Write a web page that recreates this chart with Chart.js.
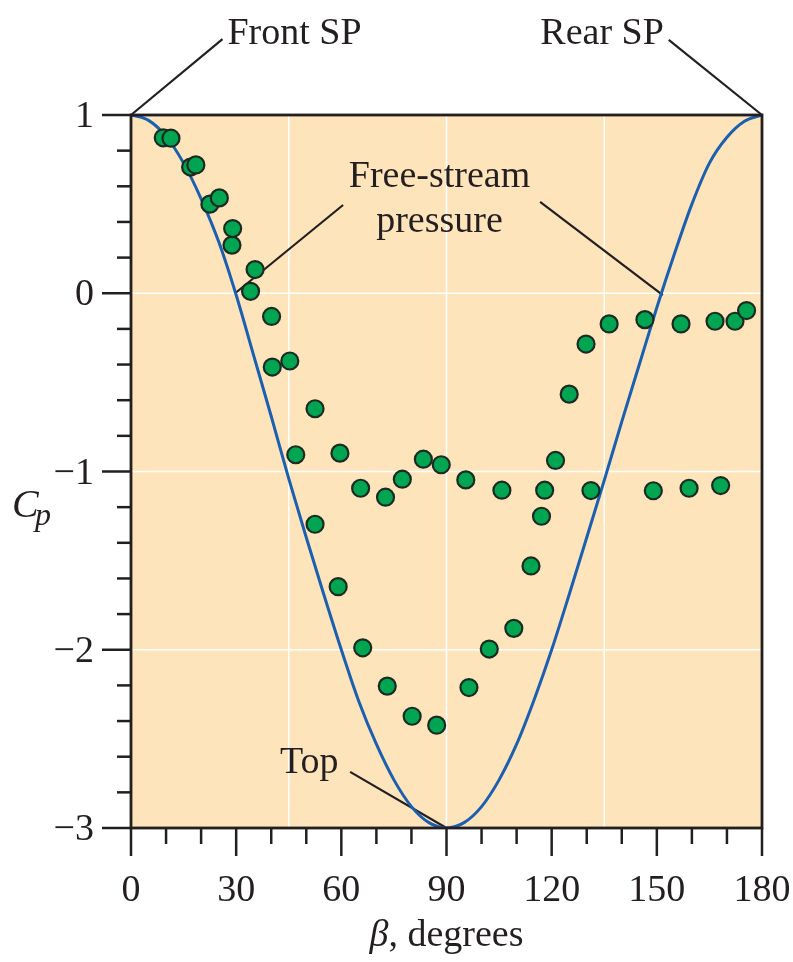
<!DOCTYPE html>
<html>
<head>
<meta charset="utf-8">
<script src="https://cdn.jsdelivr.net/npm/chart.js@4/dist/chart.umd.min.js"></script>
<style>
  html, body { margin: 0; padding: 0; background: #ffffff; }
  #wrap { width: 793px; height: 962px; }
</style>
</head>
<body>
<div id="wrap"><canvas id="cpChart" width="793" height="962"></canvas></div>
<script>
// --- datos ---
// curva teórica (flujo potencial), beta en grados
const thetaBeta = [0, 5, 10, 15, 20, 25, 30, 35, 40, 45, 50, 55, 60, 65, 70, 75, 80, 85, 90,
                   95, 100, 105, 110, 115, 120, 125, 130, 135, 140, 145, 150, 155, 160, 165, 170, 175, 180];
const thetaCp = [1.0, 0.97, 0.88, 0.73, 0.53, 0.29, -0.01, -0.35, -0.69, -1.04, -1.37, -1.69, -2.0, -2.29, -2.53, -2.73, -2.88, -2.97, -3.0,
                 -2.97, -2.88, -2.73, -2.53, -2.28, -2.0, -1.69, -1.37, -1.05, -0.72, -0.40, -0.08, 0.22, 0.50, 0.73, 0.875, 0.965, 1.0];

// serie experimental 1 (meseta en -1.1)
const lamBeta = [11.4, 18.5, 25.2, 29.0, 35.4, 40.1, 45.3, 52.5, 59.6, 65.5, 72.6, 77.4, 83.4, 88.5, 95.5, 105.8, 131.2, 149.0, 159.2, 168.2];
const lamCp = [0.87, 0.72, 0.535, 0.363, 0.133, -0.13, -0.38, -0.648, -0.897, -1.094, -1.144, -1.043, -0.931, -0.962, -1.047, -1.105, -1.107, -1.108, -1.094, -1.079];

// serie experimental 2 (mínimo en -2.4)
const turbBeta = [9.2, 17.0, 22.5, 28.8, 34.1, 40.3, 47.0, 52.5, 59.1, 66.1, 73.1, 80.2, 87.2, 96.4, 102.2, 109.2, 114.1, 117.1, 118.0,
                  121.1, 125.0, 129.8, 136.4, 146.6, 156.9, 166.6, 172.3, 175.6];
const turbCp = [0.872, 0.708, 0.5, 0.27, 0.011, -0.414, -0.906, -1.296, -1.646, -1.989, -2.204, -2.373, -2.423, -2.212, -1.996, -1.88, -1.53, -1.251, -1.105,
                -0.938, -0.566, -0.285, -0.172, -0.148, -0.172, -0.157, -0.157, -0.097];

// ejes
const xTicks = [0, 30, 60, 90, 120, 150, 180];
const xMinorTicks = [10, 20, 40, 50, 70, 80, 100, 110, 130, 140, 160, 170];
const yTicks = [1, 0, -1, -2, -3];
const yTickLabels = ['1', '0', '\u22121', '\u22122', '\u22123'];
const yMinorTicks = [0.8, 0.6, 0.4, 0.2, -0.2, -0.4, -0.6, -0.8, -1.2, -1.4, -1.6, -1.8, -2.2, -2.4, -2.6, -2.8];
const xGrid = [45, 90, 135];
const yGrid = [0, -1, -2];

const toPts = (xs, ys) => xs.map((x, i) => ({ x: x, y: ys[i] }));

const INK = '#231f20';
const SERIF = '"Liberation Serif", "DejaVu Serif", serif';

// --- plugin para fondo, marco, marcas y anotaciones ---
const decorPlugin = {
    id: 'decor',
    beforeDatasetsDraw(chart) {
        const ctx = chart.ctx;
        const a = chart.chartArea;
        const sx = chart.scales.x, sy = chart.scales.y;
        ctx.save();
        ctx.fillStyle = '#fee4bb';
        ctx.fillRect(a.left, a.top, a.right - a.left, a.bottom - a.top);

        ctx.strokeStyle = '#ffffff';
        ctx.lineWidth = 1.5;
        xGrid.forEach(v => {
            const x = sx.getPixelForValue(v);
            ctx.beginPath(); ctx.moveTo(x, a.top); ctx.lineTo(x, a.bottom); ctx.stroke();
        });
        yGrid.forEach(v => {
            const y = sy.getPixelForValue(v);
            ctx.beginPath(); ctx.moveTo(a.left, y); ctx.lineTo(a.right, y); ctx.stroke();
        });

        // líneas de referencia de las anotaciones
        const seg = (x1, y1, x2, y2) => {
            ctx.beginPath();
            ctx.moveTo(sx.getPixelForValue(x1), sy.getPixelForValue(y1));
            ctx.lineTo(sx.getPixelForValue(x2), sy.getPixelForValue(y2));
            ctx.stroke();
        };
        ctx.strokeStyle = INK;
        ctx.lineWidth = 2.2;
        seg(60.5, 0.495, 29.7, 0.0);
        seg(116.7, 0.512, 151.7, -0.01);
        seg(62.5, -2.685, 90, -3);
        ctx.restore();
    },
    afterDatasetsDraw(chart) {
        const ctx = chart.ctx;
        const a = chart.chartArea;
        const sx = chart.scales.x, sy = chart.scales.y;
        ctx.save();
        ctx.strokeStyle = INK;
        ctx.lineCap = 'butt';

        // marco
        ctx.lineWidth = 2.8;
        ctx.strokeRect(a.left, a.top, a.right - a.left, a.bottom - a.top);

        // marcas del eje x
        ctx.lineWidth = 2.5;
        xTicks.forEach(v => {
            const x = sx.getPixelForValue(v);
            ctx.beginPath(); ctx.moveTo(x, a.bottom); ctx.lineTo(x, a.bottom + 28); ctx.stroke();
        });
        xMinorTicks.forEach(v => {
            const x = sx.getPixelForValue(v);
            ctx.beginPath(); ctx.moveTo(x, a.bottom); ctx.lineTo(x, a.bottom + 16); ctx.stroke();
        });
        // marcas del eje y
        yTicks.forEach(v => {
            const y = sy.getPixelForValue(v);
            ctx.beginPath(); ctx.moveTo(a.left - 29, y); ctx.lineTo(a.left, y); ctx.stroke();
        });
        yMinorTicks.forEach(v => {
            const y = sy.getPixelForValue(v);
            ctx.beginPath(); ctx.moveTo(a.left - 14, y); ctx.lineTo(a.left, y); ctx.stroke();
        });

        // etiquetas de marcas
        ctx.fillStyle = INK;
        ctx.font = '38px ' + SERIF;
        ctx.textBaseline = 'alphabetic';
        ctx.textAlign = 'center';
        xTicks.forEach(v => {
            ctx.fillText(String(v), sx.getPixelForValue(v), a.bottom + 73);
        });
        ctx.textAlign = 'right';
        yTicks.forEach((v, i) => {
            ctx.fillText(yTickLabels[i], a.left - 37, sy.getPixelForValue(v) + 12);
        });

        // títulos de ejes
        ctx.textAlign = 'left';
        ctx.font = 'italic 40px ' + SERIF;
        ctx.fillText('C', 12, 517);
        ctx.font = 'italic 32px ' + SERIF;
        ctx.fillText('p', 35, 525);

        const cx = sx.getPixelForValue(90);
        ctx.font = 'italic 38px ' + SERIF;
        const wB = ctx.measureText('\u03b2').width;
        ctx.font = '38px ' + SERIF;
        const wRest = ctx.measureText(', degrees').width;
        const x0 = cx - (wB + wRest) / 2;
        ctx.font = 'italic 38px ' + SERIF;
        ctx.fillText('\u03b2', x0, 946);
        ctx.font = '38px ' + SERIF;
        ctx.fillText(', degrees', x0 + wB, 946);

        // anotaciones
        ctx.font = '38px ' + SERIF;
        ctx.textAlign = 'left';
        ctx.fillText('Front SP', sx.getPixelForValue(27.5), sy.getPixelForValue(1.40));
        ctx.textAlign = 'right';
        ctx.fillText('Rear SP', sx.getPixelForValue(152.0), sy.getPixelForValue(1.40));
        ctx.textAlign = 'center';
        ctx.fillText('Free-stream', sx.getPixelForValue(88), sy.getPixelForValue(0.596));
        ctx.fillText('pressure', sx.getPixelForValue(88), sy.getPixelForValue(0.344));
        ctx.textAlign = 'left';
        ctx.fillText('Top', sx.getPixelForValue(42.5), sy.getPixelForValue(-2.69));

        ctx.lineWidth = 2.2;
        const seg = (x1, y1, x2, y2) => {
            ctx.beginPath();
            ctx.moveTo(sx.getPixelForValue(x1), sy.getPixelForValue(y1));
            ctx.lineTo(sx.getPixelForValue(x2), sy.getPixelForValue(y2));
            ctx.stroke();
        };
        seg(0, 1, 26.1, 1.426);
        seg(153.4, 1.421, 180, 1);
        ctx.restore();
    }
};

new Chart(document.getElementById('cpChart'), {
    type: 'scatter',
    data: {
        datasets: [
            {
                label: 'Experimento 1',
                data: toPts(lamBeta, lamCp),
                backgroundColor: '#00a551',
                borderColor: '#1d2a22',
                borderWidth: 2.2,
                pointRadius: 8.5,
                pointHoverRadius: 8.5,
                order: 0
            },
            {
                label: 'Experimento 2',
                data: toPts(turbBeta, turbCp),
                backgroundColor: '#00a551',
                borderColor: '#1d2a22',
                borderWidth: 2.2,
                pointRadius: 8.5,
                pointHoverRadius: 8.5,
                order: 1
            },
            {
                label: 'Teoría',
                data: toPts(thetaBeta, thetaCp),
                showLine: true,
                borderColor: '#1b5fb0',
                borderWidth: 3,
                pointRadius: 0,
                cubicInterpolationMode: 'monotone',
                fill: false,
                order: 2
            }
        ]
    },
    options: {
        responsive: false,
        animation: false,
        events: [],
        layout: { padding: { top: 115, right: 31, left: 0, bottom: 0 } },
        plugins: {
            legend: { display: false },
            tooltip: { enabled: false }
        },
        scales: {
            x: {
                type: 'linear',
                min: 0,
                max: 180,
                grid: { display: false },
                border: { display: false },
                ticks: { display: false },
                afterFit: function(s) { s.height = 134; }
            },
            y: {
                type: 'linear',
                min: -3,
                max: 1,
                grid: { display: false },
                border: { display: false },
                ticks: { display: false },
                afterFit: function(s) { s.width = 131; }
            }
        }
    },
    plugins: [decorPlugin]
});
</script>
</body>
</html>
